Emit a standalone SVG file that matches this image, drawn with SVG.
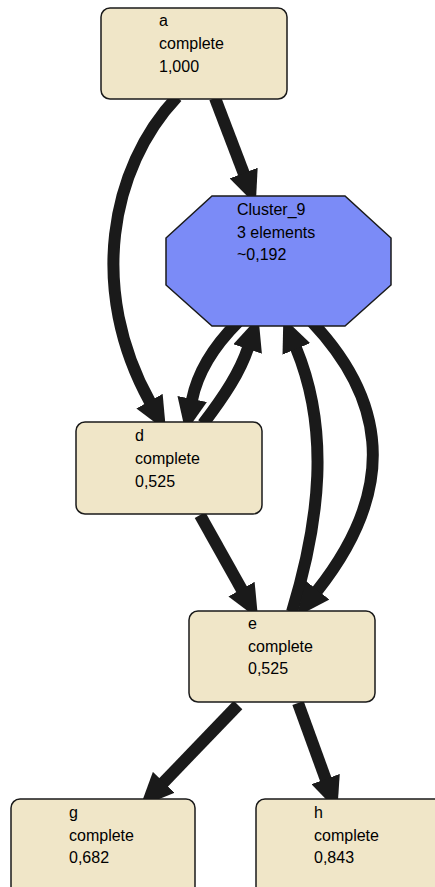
<svg xmlns="http://www.w3.org/2000/svg" width="435" height="887" viewBox="0 0 435 887">
<defs>
<style>
.node{fill:#F0E6C8;stroke:#1a1a1a;stroke-width:1.5}
.cluster{fill:#7B8BF7;stroke:#1a1a1a;stroke-width:1.5}
.lbl{font-family:"Liberation Sans",Arial,sans-serif;font-size:16px;fill:#000}
.edge{fill:none;stroke:#1a1a1a;stroke-width:12;stroke-linecap:butt}
</style>
<marker id="ah" viewBox="0 0 34 30" refX="1" refY="15" markerWidth="34" markerHeight="30" markerUnits="userSpaceOnUse" orient="auto">
<path d="M0,0 L34,15 L0,30 z" fill="#1a1a1a"/>
</marker>
</defs>
<rect width="435" height="887" fill="#ffffff"/>
<g id="edges">
<path class="edge" marker-end="url(#ah)" d="M215,98 L244,174"/>
<path class="edge" marker-end="url(#ah)" d="M177,97 C110,168 88,290 150,402"/>
<path class="edge" marker-end="url(#ah)" d="M238,322 C215,345 198,370 192,400"/>
<path class="edge" marker-end="url(#ah)" d="M203,424 C225,395 240,372 248,348"/>
<path class="edge" marker-end="url(#ah)" d="M292,612 C320,520 330,430 296,348"/>
<path class="edge" marker-end="url(#ah)" d="M312,322 C378,392 405,480 317,591"/>
<path class="edge" marker-end="url(#ah)" d="M200,515 L242,590"/>
<path class="edge" marker-end="url(#ah)" d="M238,705 L163,783"/>
<path class="edge" marker-end="url(#ah)" d="M298,703 L326,780"/>
</g>
<g id="node-a">
<rect class="node" x="101" y="8" width="186" height="91" rx="9"/>
<text class="lbl" x="159" y="26">a</text>
<text class="lbl" x="159" y="49">complete</text>
<text class="lbl" x="159" y="72">1,000</text>
</g>
<g id="node-cluster9">
<polygon class="cluster" points="212,196 345,196 391,238 391,285 345,326 212,326 166,285 166,238"/>
<text class="lbl" x="237" y="215">Cluster_9</text>
<text class="lbl" x="237" y="238">3 elements</text>
<text class="lbl" x="237" y="260">~0,192</text>
</g>
<g id="node-d">
<rect class="node" x="76" y="422" width="186" height="92" rx="9"/>
<text class="lbl" x="135" y="441">d</text>
<text class="lbl" x="135" y="464">complete</text>
<text class="lbl" x="135" y="487">0,525</text>
</g>
<g id="node-e">
<rect class="node" x="189" y="611" width="186" height="91" rx="9"/>
<text class="lbl" x="248" y="629">e</text>
<text class="lbl" x="248" y="652">complete</text>
<text class="lbl" x="248" y="674">0,525</text>
</g>
<g id="node-g">
<rect class="node" x="11" y="799" width="184" height="100" rx="9"/>
<text class="lbl" x="69" y="818">g</text>
<text class="lbl" x="69" y="841">complete</text>
<text class="lbl" x="69" y="863">0,682</text>
</g>
<g id="node-h">
<rect class="node" x="256" y="799" width="190" height="100" rx="9"/>
<text class="lbl" x="314" y="818">h</text>
<text class="lbl" x="314" y="841">complete</text>
<text class="lbl" x="314" y="863">0,843</text>
</g>
</svg>
